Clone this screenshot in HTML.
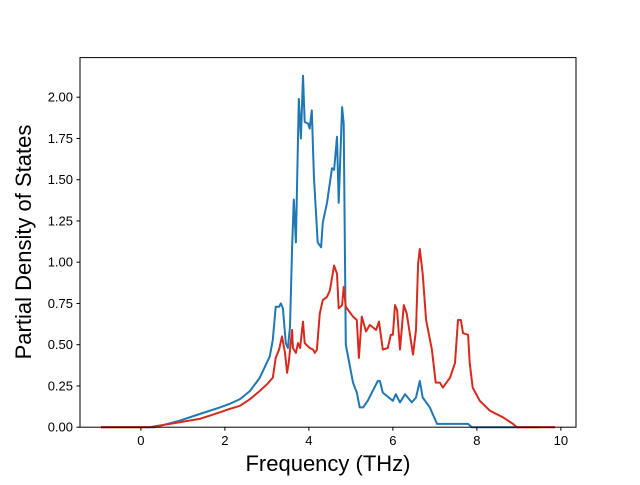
<!DOCTYPE html>
<html><head><meta charset="utf-8"><style>
body{margin:0;background:#fff;}
svg text{font-family:"Liberation Sans","DejaVu Sans",sans-serif;fill:#000;}
</style></head><body>
<svg id="chart" width="640" height="480" xmlns="http://www.w3.org/2000/svg">
<rect width="640" height="480" fill="#fff"/>
<g id="plot"></g>
<rect x="80" y="57.6" width="496" height="369.6" fill="none" stroke="#000" stroke-width="1"/>
<g id="xt"></g><g id="yt"></g>
<text x="328" y="471" text-anchor="middle" font-size="22">Frequency (THz)</text>
<text transform="translate(31,242) rotate(-90)" text-anchor="middle" font-size="22">Partial Density of States</text>
</svg>
<script>
const xTicks=[0,2,4,6,8,10];
const yTicks=[0,0.25,0.5,0.75,1.0,1.25,1.5,1.75,2.0];
const blueF=[-0.95,0.33,0.93,1.40,1.88,2.10,2.36,2.60,2.83,3.07,3.14,3.21,3.29,3.33,3.38,3.45,3.50,3.55,3.60,3.64,3.69,3.76,3.81,3.86,3.90,3.98,4.02,4.07,4.12,4.21,4.29,4.33,4.43,4.55,4.60,4.67,4.71,4.79,4.83,4.88,5.05,5.14,5.21,5.29,5.40,5.52,5.64,5.69,5.76,6.00,6.07,6.17,6.29,6.45,6.55,6.64,6.71,6.88,7.05,7.79,7.88,9.5];
const blueV=[0,0,0.04,0.08,0.12,0.14,0.17,0.22,0.30,0.43,0.53,0.73,0.73,0.75,0.72,0.51,0.48,0.61,1.09,1.38,1.12,1.99,1.75,2.13,1.85,1.84,1.81,1.92,1.52,1.12,1.09,1.24,1.36,1.57,1.56,1.76,1.36,1.94,1.84,0.50,0.27,0.21,0.12,0.12,0.16,0.22,0.28,0.28,0.21,0.16,0.20,0.15,0.20,0.15,0.18,0.28,0.18,0.12,0.02,0.02,0,0];
const redF=[-0.95,0.21,0.69,1.40,1.88,2.10,2.36,2.60,2.83,3.00,3.14,3.21,3.29,3.36,3.43,3.48,3.52,3.60,3.62,3.69,3.74,3.79,3.86,3.90,4.02,4.10,4.14,4.19,4.26,4.33,4.43,4.50,4.60,4.67,4.71,4.79,4.83,4.88,5.05,5.14,5.19,5.26,5.36,5.45,5.60,5.67,5.76,5.88,5.95,6.00,6.05,6.10,6.17,6.26,6.33,6.48,6.55,6.60,6.64,6.71,6.79,6.93,7.02,7.12,7.19,7.36,7.48,7.55,7.62,7.67,7.79,7.83,7.90,8.07,8.31,8.62,8.86,8.95,9.86];
const redV=[0,0,0.02,0.05,0.09,0.11,0.13,0.17,0.22,0.26,0.30,0.42,0.47,0.55,0.45,0.33,0.39,0.59,0.48,0.45,0.51,0.48,0.64,0.51,0.48,0.47,0.45,0.47,0.69,0.77,0.79,0.83,0.98,0.93,0.72,0.74,0.85,0.73,0.67,0.65,0.42,0.67,0.58,0.62,0.59,0.64,0.47,0.48,0.56,0.56,0.74,0.71,0.47,0.74,0.69,0.44,0.59,0.99,1.08,0.93,0.65,0.47,0.27,0.27,0.24,0.30,0.39,0.65,0.65,0.57,0.56,0.39,0.24,0.16,0.10,0.06,0.02,0,0];
const NS="http://www.w3.org/2000/svg";
const X0=80,X1=576,Y0=427.2,Y1=57.6,xmin=-1.45,xmax=10.36,ymin=0,ymax=2.24;
const sx=f=>X0+(f-xmin)/(xmax-xmin)*(X1-X0);
const sy=v=>Y0-(v-ymin)/(ymax-ymin)*(Y0-Y1);
function mk(tag,attrs,parent){const e=document.createElementNS(NS,tag);for(const k in attrs)e.setAttribute(k,attrs[k]);parent.appendChild(e);return e;}
const plot=document.getElementById('plot');
function line(F,V,color,w,name){
  const d=F.map((f,i)=>(i?'L':'M')+sx(f).toFixed(1)+','+sy(V[i]).toFixed(1)).join('');
  const p=mk('path',{d:d,fill:'none',stroke:color,'stroke-width':w,'stroke-linejoin':'round'},plot);
  
  
}
line(blueF,blueV,'#1f77b4',2,'series-blue');
line(redF,redV,'#ff7f0e',2,'series-orange');
line(redF,redV,'#d62728',1.8,'series-red');
const xt=document.getElementById('xt');
xTicks.forEach(t=>{const x=sx(t);
  const l=mk('line',{x1:x,x2:x,y1:Y0,y2:Y0+3.5,stroke:'#000'},xt);
  
  
  const tx=mk('text',{x:x,y:Y0+18,'text-anchor':'middle','font-size':'13'},xt);tx.textContent=t;
  
  
});
const yt=document.getElementById('yt');
yTicks.forEach(t=>{const y=sy(t);
  const l=mk('line',{x1:X0-3.5,x2:X0,y1:y,y2:y,stroke:'#000'},yt);
  
  
  const tx=mk('text',{x:X0-7,y:y+4.5,'text-anchor':'end','font-size':'13'},yt);tx.textContent=t.toFixed(2);
  
  
});
</script>
</body></html>
